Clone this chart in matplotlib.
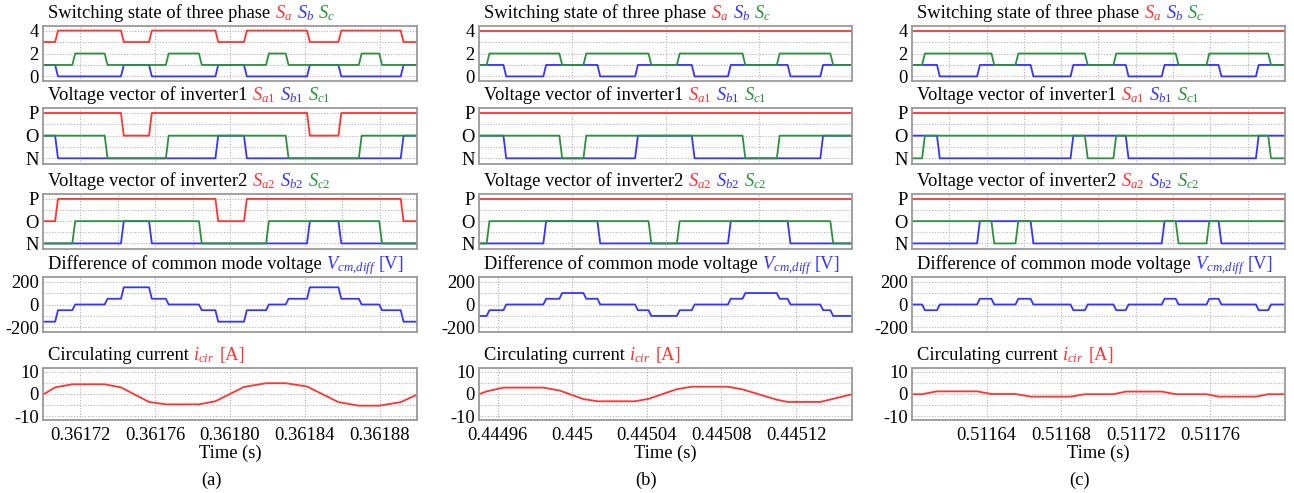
import numpy as np
import matplotlib
matplotlib.use('Agg')
import matplotlib.pyplot as plt

plt.rcParams['font.family'] = ['Liberation Serif', 'DejaVu Serif']
plt.rcParams['mathtext.fontset'] = 'custom'
plt.rcParams['mathtext.rm'] = 'Liberation Serif'
plt.rcParams['mathtext.it'] = 'Liberation Serif:italic'

RED = '#ff3535'
BLUE = '#3535ff'
GREEN = '#2f8f3f'

# ---------------- data (times in microseconds from window start) ----------------
a_t0 = 0.36170
b_t0 = 0.44495
c_t0 = 0.51160
span_us = 200.0

# (a)
a_sw_red_edges = [6.5, 41.7, 56.7, 92.2, 107.5, 141.2, 158.0, 191.3]
a_sw_red_levels = [3, 4, 3, 4, 3, 4, 3, 4, 3]
a_sw_blue_edges = [6.5, 41.7, 56.7, 92.2, 107.5, 141.2, 158.0, 191.3]
a_sw_blue_levels = [1, 0, 1, 0, 1, 0, 1, 0, 1]
a_sw_green_edges = [15.7, 33.0, 65.7, 83.4, 119.3, 129.8, 168.9, 179.8]
a_sw_green_levels = [1, 2, 1, 2, 1, 2, 1, 2, 1]
a_v1_red_edges = [41.7, 56.7, 141.2, 158.0]
a_v1_red_levels = [2, 1, 2, 1, 2]
a_v1_blue_edges = [6.5, 92.2, 107.5, 191.3]
a_v1_blue_levels = [1, 0, 1, 0, 1]
a_v1_green_edges = [33.0, 65.7, 129.8, 168.9]
a_v1_green_levels = [1, 0, 1, 0, 1]
a_v2_red_edges = [6.5, 92.2, 107.5, 191.3]
a_v2_red_levels = [1, 2, 1, 2, 1]
a_v2_blue_edges = [41.7, 56.7, 141.2, 158.0]
a_v2_blue_levels = [0, 1, 0, 1, 0]
a_v2_green_edges = [15.7, 83.4, 119.3, 179.8]
a_v2_green_levels = [0, 1, 0, 1, 0]
a_vcm_edges = [6.5, 15.7, 33.0, 41.7, 56.7, 65.7, 83.4, 92.2, 107.5, 119.3,
               129.8, 141.2, 158.0, 168.9, 179.8, 191.3]
a_vcm_levels = [-150, -50, 0, 50, 150, 50, 0, -50, -150, -50, 0, 50, 150, 50, 0, -50, -150]
a_icir_t = [0, 6.5, 15.7, 33.0, 41.7, 56.7, 65.7, 83.4, 92.2, 107.5, 119.3,
            129.8, 141.2, 158.0, 168.9, 179.8, 191.3, 200]
a_icir_v = [-0.3, 3.0, 4.4, 4.4, 3.0, -3.6, -4.7, -4.7, -3.3, 3.2, 4.9,
            4.9, 3.4, -3.7, -5.3, -5.3, -3.7, -0.3]

# (b)
b_sw_red_edges = []
b_sw_red_levels = [4]
b_sw_blue_edges = [13.1, 34.5, 63.5, 83.7, 114.1, 133.5, 165.5, 183.0]
b_sw_blue_levels = [1, 0, 1, 0, 1, 0, 1, 0, 1]
b_sw_green_edges = [4.1, 43.1, 56.0, 90.9, 106.1, 141.3, 159.7, 188.4]
b_sw_green_levels = [1, 2, 1, 2, 1, 2, 1, 2, 1]
b_v1_red_edges = []
b_v1_red_levels = [2]
b_v1_blue_edges = [13.1, 83.7, 114.1, 183.0]
b_v1_blue_levels = [1, 0, 1, 0, 1]
b_v1_green_edges = [43.1, 56.0, 141.3, 159.7]
b_v1_green_levels = [1, 0, 1, 0, 1]
b_v2_red_edges = []
b_v2_red_levels = [2]
b_v2_blue_edges = [34.5, 63.5, 133.5, 165.5]
b_v2_blue_levels = [0, 1, 0, 1, 0]
b_v2_green_edges = [4.1, 90.9, 106.1, 188.4]
b_v2_green_levels = [0, 1, 0, 1, 0]
b_vcm_edges = [4.1, 13.1, 34.5, 43.1, 56.0, 63.5, 83.7, 90.9, 106.1, 114.1,
               133.5, 141.3, 159.7, 165.5, 183.0, 188.4]
b_vcm_levels = [-100, -50, 0, 50, 100, 50, 0, -50, -100, -50, 0, 50, 100, 50, 0, -50, -100]
b_icir_t = [0, 4.1, 13.1, 34.5, 43.1, 56.0, 63.5, 83.7, 90.9, 106.1, 114.1,
            133.5, 141.3, 159.7, 165.5, 183.0, 188.4, 200]
b_icir_v = [-0.1, 1.2, 2.9, 2.9, 1.6, -2.3, -3.3, -3.3, -2.2, 2.2, 3.3,
            3.3, 2.1, -2.6, -3.6, -3.6, -2.5, -0.1]

# (c)
c_sw_red_edges = []
c_sw_red_levels = [4]
c_sw_blue_edges = [13.4, 34.9, 63.6, 85.0, 114.6, 133.9, 164.4, 184.4]
c_sw_blue_levels = [1, 0, 1, 0, 1, 0, 1, 0, 1]
c_sw_green_edges = [5.4, 42.6, 55.5, 92.7, 108.0, 141.4, 157.9, 191.0]
c_sw_green_levels = [1, 2, 1, 2, 1, 2, 1, 2, 1]
c_v1_red_edges = []
c_v1_red_levels = [2]
c_v1_blue_edges = [13.4, 85.0, 114.6, 184.4]
c_v1_blue_levels = [1, 0, 1, 0, 1]
c_v1_green_edges = [5.4, 92.7, 108.0, 191.0]
c_v1_green_levels = [0, 1, 0, 1, 0]
c_v2_red_edges = []
c_v2_red_levels = [2]
c_v2_blue_edges = [34.9, 63.6, 133.9, 164.4]
c_v2_blue_levels = [0, 1, 0, 1, 0]
c_v2_green_edges = [42.6, 55.5, 141.4, 157.9]
c_v2_green_levels = [1, 0, 1, 0, 1]
c_vcm_edges = [5.4, 13.4, 34.9, 42.6, 55.5, 63.6, 85.0, 92.7, 108.0, 114.6,
               133.9, 141.4, 157.9, 164.4, 184.4, 191.0]
c_vcm_levels = [0, -50, 0, 50, 0, 50, 0, -50, 0, -50, 0, 50, 0, 50, 0, -50, 0]
c_icir_t = [0, 5.4, 13.4, 34.9, 42.6, 55.5, 63.6, 85.0, 92.7, 108.0, 114.6,
            133.9, 141.4, 157.9, 164.4, 184.4, 191.0, 200]
c_icir_v = [-0.1, -0.1, 1.2, 1.2, 0.0, 0.0, -1.2, -1.2, -0.1, -0.1, 1.1,
            1.1, -0.1, -0.1, -1.2, -1.2, -0.1, -0.1]

# x tick labels (bottom row)
a_xticks = [0.36172, 0.36176, 0.36180, 0.36184, 0.36188]
a_xlabels = ['0.36172', '0.36176', '0.36180', '0.36184', '0.36188']
b_xticks = [0.44496, 0.44500, 0.44504, 0.44508, 0.44512]
b_xlabels = ['0.44496', '0.445', '0.44504', '0.44508', '0.44512']
c_xticks = [0.51164, 0.51168, 0.51172, 0.51176]
c_xlabels = ['0.51164', '0.51168', '0.51172', '0.51176']

# grid positions for upper rows
a_grid_12 = a_xticks
a_grid_3 = [0.36172, 0.36174, 0.36176, 0.36178, 0.36180, 0.36182, 0.36184, 0.36186, 0.36188]
b_grid_123 = [0.44500, 0.44505, 0.44510]
c_grid_123 = [0.51162, 0.51164, 0.51166, 0.51168, 0.51170, 0.51172, 0.51174, 0.51176, 0.51178]

panel_letters = ['(a)', '(b)', '(c)']
sw_ticks = [0, 2, 4]
sw_ticklabels = ['0', '2', '4']
pon_ticks = [0, 1, 2]
pon_ticklabels = ['N', 'O', 'P']
vcm_ticks = [-200, 0, 200]
vcm_ticklabels = ['-200', '0', '200']
icir_ticks = [-10, 0, 10]
icir_ticklabels = ['-10', '0', '10']

# ---------------- helpers ----------------
RAMP = 1.5  # drawn edge slope width (us)


def step_trace(t0, edges, levels):
    ts = [0.0]
    vs = [levels[0]]
    for e, lp, ln in zip(edges, levels[:-1], levels[1:]):
        ts += [e, e + RAMP]
        vs += [lp, ln]
    ts.append(span_us)
    vs.append(levels[-1])
    return t0 + np.array(ts) * 1e-6, np.array(vs, dtype=float)


W, H = 1294, 493
FS = 13.3
fig = plt.figure(figsize=(W / 100, H / 100), dpi=100)
renderer = fig.canvas.get_renderer()

cols_px = [(43, 417), (479, 852), (912, 1285)]
rows_px = [(26, 81), (108, 164), (194, 249), (277, 332), (368, 420)]

GRIDC = '#b4b4b4'
SPINEC = '#9a9a9a'


def make_ax(ci, ri):
    l, r = cols_px[ci]
    t, b = rows_px[ri]
    ax = fig.add_axes([l / W, 1 - b / H, (r - l) / W, (b - t) / H])
    for s in ax.spines.values():
        s.set_color(SPINEC)
        s.set_linewidth(1.3)
    ax.tick_params(axis='both', which='both', length=0, labelsize=FS, pad=3)
    return ax


def draw_title(ci, ri, pieces):
    l, _ = cols_px[ci]
    t, _ = rows_px[ri]
    x = l + 5
    y = t - 8
    space = 0.25 * FS * 100 / 72
    for s, c, g in pieces:
        txt = fig.text(x / W, 1 - y / H, s, color=c, fontsize=FS,
                       ha='left', va='baseline')
        bb = txt.get_window_extent(renderer)
        x += bb.width + space * g


def grid_y(ax, minor):
    ax.set_yticks(minor, minor=True)
    ax.grid(True, which='both', axis='both', color=GRIDC,
            linestyle=(0, (1, 1.5)), linewidth=0.8)
    ax.set_axisbelow(True)


cols = [
    dict(t0=a_t0,
         sw=[(a_sw_red_edges, a_sw_red_levels), (a_sw_blue_edges, a_sw_blue_levels), (a_sw_green_edges, a_sw_green_levels)],
         v1=[(a_v1_red_edges, a_v1_red_levels), (a_v1_blue_edges, a_v1_blue_levels), (a_v1_green_edges, a_v1_green_levels)],
         v2=[(a_v2_red_edges, a_v2_red_levels), (a_v2_blue_edges, a_v2_blue_levels), (a_v2_green_edges, a_v2_green_levels)],
         vcm=(a_vcm_edges, a_vcm_levels), icir=(a_icir_t, a_icir_v),
         xt=a_xticks, xl=a_xlabels, g=[a_grid_12, a_grid_12, a_grid_3, a_xticks]),
    dict(t0=b_t0,
         sw=[(b_sw_red_edges, b_sw_red_levels), (b_sw_blue_edges, b_sw_blue_levels), (b_sw_green_edges, b_sw_green_levels)],
         v1=[(b_v1_red_edges, b_v1_red_levels), (b_v1_blue_edges, b_v1_blue_levels), (b_v1_green_edges, b_v1_green_levels)],
         v2=[(b_v2_red_edges, b_v2_red_levels), (b_v2_blue_edges, b_v2_blue_levels), (b_v2_green_edges, b_v2_green_levels)],
         vcm=(b_vcm_edges, b_vcm_levels), icir=(b_icir_t, b_icir_v),
         xt=b_xticks, xl=b_xlabels, g=[b_grid_123, b_grid_123, b_grid_123, b_xticks]),
    dict(t0=c_t0,
         sw=[(c_sw_red_edges, c_sw_red_levels), (c_sw_blue_edges, c_sw_blue_levels), (c_sw_green_edges, c_sw_green_levels)],
         v1=[(c_v1_red_edges, c_v1_red_levels), (c_v1_blue_edges, c_v1_blue_levels), (c_v1_green_edges, c_v1_green_levels)],
         v2=[(c_v2_red_edges, c_v2_red_levels), (c_v2_blue_edges, c_v2_blue_levels), (c_v2_green_edges, c_v2_green_levels)],
         vcm=(c_vcm_edges, c_vcm_levels), icir=(c_icir_t, c_icir_v),
         xt=c_xticks, xl=c_xlabels, g=[c_grid_123, c_grid_123, c_grid_123, c_xticks]),
]

LW = 1.3
colors3 = [RED, BLUE, GREEN]

for ci, cd in enumerate(cols):
    t0 = cd['t0']
    xlim = (t0, t0 + span_us * 1e-6)

    # row 1: switching state
    ax = make_ax(ci, 0)
    for (e, lv), c in zip(cd['sw'], colors3):
        tt, vv = step_trace(t0, e, lv)
        ax.plot(tt, vv, color=c, lw=LW)
    ax.set_ylim(-0.4, 4.4)
    ax.set_yticks(sw_ticks)
    ax.set_yticklabels(sw_ticklabels)
    grid_y(ax, [1, 3])
    ax.set_xticks(cd['g'][0])
    ax.set_xticklabels([])
    ax.set_xlim(*xlim)
    draw_title(ci, 0, [('Switching state of three phase', 'black', 1),
                       (r'$S_a$', RED, 1), (r'$S_b$', BLUE, 1), (r'$S_c$', GREEN, 1)])

    # rows 2, 3: inverter voltage vectors
    for ri, key, num in [(1, 'v1', '1'), (2, 'v2', '2')]:
        ax = make_ax(ci, ri)
        for (e, lv), c in zip(cd[key], colors3):
            tt, vv = step_trace(t0, e, lv)
            ax.plot(tt, vv, color=c, lw=LW)
        ax.set_ylim(-0.25, 2.22)
        ax.set_yticks(pon_ticks)
        ax.set_yticklabels(pon_ticklabels)
        grid_y(ax, [0.5, 1.5])
        ax.set_xticks(cd['g'][ri])
        ax.set_xticklabels([])
        ax.set_xlim(*xlim)
        draw_title(ci, ri, [('Voltage vector of inverter' + num, 'black', 1),
                            (r'$S_{a%s}$' % num, RED, 1), (r'$S_{b%s}$' % num, BLUE, 1),
                            (r'$S_{c%s}$' % num, GREEN, 1)])

    # row 4: common-mode voltage difference
    ax = make_ax(ci, 3)
    tt, vv = step_trace(t0, *cd['vcm'])
    ax.plot(tt, vv, color=BLUE, lw=LW)
    ax.set_ylim(-240, 240)
    ax.set_yticks(vcm_ticks)
    ax.set_yticklabels(vcm_ticklabels)
    grid_y(ax, [-100, 100])
    ax.set_xticks(cd['g'][3])
    ax.set_xticklabels([])
    ax.set_xlim(*xlim)
    draw_title(ci, 3, [('Difference of common mode voltage', 'black', 1),
                       (r'$V_{cm{,}diff}$', BLUE, 0.5), ('[V]', BLUE, 1)])

    # row 5: circulating current
    ax = make_ax(ci, 4)
    it, iv = cd['icir']
    ax.plot(t0 + np.array(it) * 1e-6, iv, color=RED, lw=LW)
    ax.set_ylim(-11.8, 11.8)
    ax.set_yticks(icir_ticks)
    ax.set_yticklabels(icir_ticklabels)
    grid_y(ax, [-5, 5])
    ax.set_xticks(cd['xt'])
    ax.set_xticklabels(cd['xl'])
    ax.tick_params(axis='x', pad=5)
    ax.set_xlim(*xlim)
    draw_title(ci, 4, [('Circulating current', 'black', 1),
                       (r'$i_{cir}$', RED, 1), ('[A]', RED, 1)])

    l, r = cols_px[ci]
    xc = (l + r) / 2
    fig.text(xc / W, 1 - 453 / H, 'Time (s)', fontsize=FS, ha='center', va='center')
    fig.text((xc - 19) / W, 1 - 480 / H, panel_letters[ci], fontsize=FS, ha='center', va='center')

fig.savefig('out.png', dpi=100)
